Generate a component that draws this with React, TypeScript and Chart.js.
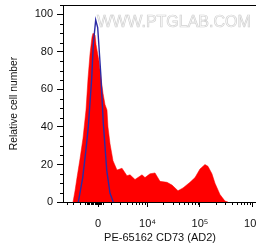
import React, { useEffect, useRef } from 'react';
import { Chart, registerables } from 'chart.js';

Chart.register(...registerables);

// x values are in display units of the biexponential axis (0 -> "0", one decade per unit above ~10^3)
const redX = [-0.476, -0.438, -0.4, -0.343, -0.286, -0.229, -0.19, -0.152, -0.114, -0.095, -0.057, -0.038, 0.019, 0.057, 0.095, 0.133, 0.171, 0.19, 0.229, 0.286, 0.362, 0.457, 0.552, 0.61, 0.705, 0.838, 0.895, 0.99, 1.086, 1.181, 1.314, 1.41, 1.524, 1.619, 1.752, 1.848, 1.943, 2.038, 2.095, 2.171, 2.229, 2.324, 2.419, 2.476];
const redY = [0, 6, 13, 23, 34, 49, 66, 79, 88, 90, 89, 84, 75, 66, 58, 52, 49, 40, 31, 22, 17, 18, 14, 14.5, 12, 14.5, 13, 15, 15.5, 11, 10.5, 9, 6, 7.5, 10.5, 13, 17.6, 20, 19, 15, 10, 4, 0.5, 0];

const blueX = [-0.375, -0.33, -0.291, -0.229, -0.185, -0.12, -0.09, -0.044, -0.006, 0.051, 0.101, 0.166, 0.229, 0.291];
const blueY = [0, 7, 13, 28, 40, 66, 84, 97, 93, 69, 42, 17, 4.6, 0];

const xTickValues = [0, 0.943, 1.943, 2.943];
const xTickLabels = ['0', '10\u2074', '10\u2075', '10\u2076'];
const xMin = -0.667;
const xMax = 3.029;
const xDecadeOffset = 3.057;
const xLogDecades = [3, 4, 5];
const xLogMultipliers = [2, 3, 4, 5, 6, 7, 8, 9];
const xLinearMinorTicks = [-0.597, -0.47, -0.343, -0.24, -0.215, -0.19, -0.165, -0.14, -0.115, -0.09, -0.065, -0.04, -0.02, 0.02, 0.04, 0.065, 0.09];

const yTickValues = [0, 20, 40, 60, 80, 100];
const yMinorTicks = [5, 10, 15, 25, 30, 35, 45, 50, 55, 65, 70, 75, 85, 90, 95, 105];
const yMin = 0;
const yMax = 105;

const xTitle = 'PE-65162 CD73 (AD2)';
const yTitle = 'Relative cell number';
const watermark = 'WWW.PTGLAB.COM';

const FONT = "'Liberation Sans', Arial, sans-serif";

export default function App() {
  const ref = useRef<HTMLCanvasElement | null>(null);

  useEffect(() => {
    if (!ref.current) return;

    const decorPlugin = {
      id: 'decor',
      beforeDatasetsDraw(chart: any) {
        const { ctx, chartArea } = chart;
        const xs = chart.scales.x;
        ctx.save();
        ctx.beginPath();
        ctx.rect(chartArea.left, chartArea.top, chartArea.right - chartArea.left, chartArea.bottom - chartArea.top);
        ctx.clip();
        ctx.font = `16px ${FONT}`;
        ctx.textBaseline = 'alphabetic';
        ctx.strokeStyle = '#d0d0d0';
        ctx.lineWidth = 0.7;
        ctx.strokeText(watermark, xs.getPixelForValue(0) - 1, chartArea.top + 22);
        ctx.restore();
      },
      afterDraw(chart: any) {
        const { ctx, chartArea } = chart;
        const xs = chart.scales.x;
        const ys = chart.scales.y;
        ctx.save();
        ctx.strokeStyle = '#000';
        ctx.lineWidth = 1;
        ctx.beginPath();
        // top frame line
        ctx.moveTo(chartArea.left, Math.round(chartArea.top) + 0.5);
        ctx.lineTo(chartArea.right, Math.round(chartArea.top) + 0.5);
        // y minor ticks
        yMinorTicks.forEach((v) => {
          if (v > yMax) return;
          const py = Math.round(ys.getPixelForValue(v)) + 0.5;
          ctx.moveTo(chartArea.left - 3, py);
          ctx.lineTo(chartArea.left, py);
        });
        // x minor ticks
        const minor: number[] = [...xLinearMinorTicks];
        xLogDecades.forEach((d) => {
          xLogMultipliers.forEach((k) => {
            minor.push(Math.log10(k * Math.pow(10, d)) - xDecadeOffset);
          });
        });
        minor.forEach((u) => {
          if (u < xMin || u > xMax) return;
          const px = Math.round(xs.getPixelForValue(u)) + 0.5;
          ctx.moveTo(px, chartArea.bottom);
          ctx.lineTo(px, chartArea.bottom + 3);
        });
        ctx.stroke();
        ctx.restore();
      },
    };

    const chart = new Chart(ref.current, {
      type: 'line',
      data: {
        datasets: [
          {
            label: 'isotype',
            data: blueX.map((x, i) => ({ x, y: blueY[i] })),
            borderColor: '#2b2ba6',
            borderWidth: 1.4,
            pointRadius: 0,
            fill: false,
            tension: 0,
            order: 0,
          },
          {
            label: 'CD73',
            data: redX.map((x, i) => ({ x, y: redY[i] })),
            borderColor: '#ff0000',
            backgroundColor: '#ff0000',
            borderWidth: 0.5,
            pointRadius: 0,
            fill: 'origin',
            tension: 0,
            order: 1,
          },
        ],
      },
      options: {
        animation: false,
        responsive: false,
        maintainAspectRatio: false,
        layout: { padding: { top: 5, right: 13, left: 0, bottom: 0 } },
        plugins: {
          legend: { display: false },
          tooltip: { enabled: false },
        },
        scales: {
          x: {
            type: 'linear',
            min: xMin,
            max: xMax,
            afterBuildTicks: (scale: any) => {
              scale.ticks = xTickValues.map((v) => ({ value: v }));
            },
            afterFit: (scale: any) => {
              scale.height = 49;
              scale.paddingLeft = 0;
              scale.paddingRight = 0;
            },
            ticks: {
              autoSkip: false,
              maxRotation: 0,
              padding: 10,
              color: '#111',
              font: { family: FONT, size: 11 },
              callback: (value: any) => {
                const i = xTickValues.findIndex((t) => Math.abs(t - Number(value)) < 1e-6);
                return i >= 0 ? xTickLabels[i] : '';
              },
            },
            grid: { drawOnChartArea: false, drawTicks: true, tickLength: 5, color: '#000' },
            border: { display: true, color: '#000', width: 1 },
            title: {
              display: true,
              text: xTitle,
              color: '#111',
              font: { family: FONT, size: 11 },
              padding: { top: 0, bottom: 6.4 },
            },
          },
          y: {
            type: 'linear',
            min: yMin,
            max: yMax,
            afterBuildTicks: (scale: any) => {
              scale.ticks = yTickValues.map((v) => ({ value: v }));
            },
            afterFit: (scale: any) => {
              scale.width = 63;
              scale.paddingTop = 0;
              scale.paddingBottom = 0;
            },
            ticks: {
              autoSkip: false,
              padding: 4,
              color: '#111',
              font: { family: FONT, size: 11 },
              callback: (value: any) => String(value),
            },
            grid: { drawOnChartArea: false, drawTicks: true, tickLength: 6, color: '#000' },
            border: { display: true, color: '#000', width: 1 },
            title: {
              display: true,
              text: yTitle,
              color: '#111',
              font: { family: FONT, size: 10.3 },
              padding: { top: 7.8, bottom: 0 },
            },
          },
        },
      },
      plugins: [decorPlugin],
    } as any);

    return () => chart.destroy();
  }, []);

  return (
    <div style={{ position: 'absolute', left: 0, top: 0, width: 256, height: 251, overflow: 'hidden', background: '#fff' }}>
      <canvas ref={ref} width={270} height={251} style={{ display: 'block', width: 270, height: 251 }} />
    </div>
  );
}
